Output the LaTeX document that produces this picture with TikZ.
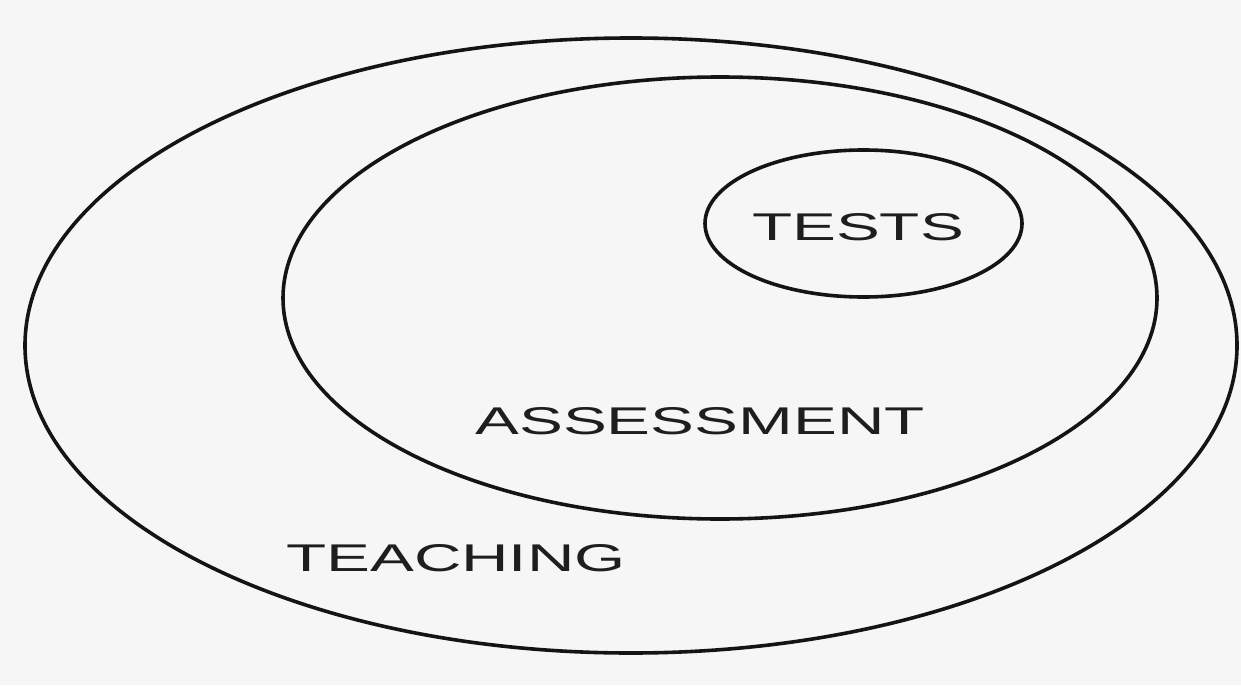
\documentclass[tikz,border=0pt]{standalone}
\usepackage{fontspec}
\setmainfont{Liberation Sans}
\newcommand{\widelabel}[1]{\scalebox{1.7}[1]{#1}}
\tikzset{every picture/.style={line width=2.7pt}}
\tikzset{ring/.style={draw={rgb,255:red,20;green,20;blue,20}}}
\tikzset{label text/.style={anchor=center,inner sep=0pt,text={rgb,255:red,30;green,30;blue,30},font=\fontsize{29}{35}\selectfont}}

\begin{document}
\begin{tikzpicture}[x=0.75pt,y=0.75pt,yscale=-1,xscale=1]
%Background
\fill [fill={rgb, 255:red, 246; green, 246; blue, 246 }] (0,0) rectangle (1241,685) ;
\useasboundingbox (0,0) rectangle (1241,685) ;

%Shape: Ellipse - teaching
\draw [ring] (631,345.5) ellipse [x radius=606, y radius=307.5] ;
%Shape: Ellipse - assessment
\draw [ring] (720,298) ellipse [x radius=437, y radius=221] ;
%Shape: Ellipse - tests
\draw [ring] (863.5,223.5) ellipse [x radius=158.5, y radius=73.5] ;

% Text Node
\node [label text] (tests) at (858,227) {\widelabel{TESTS}};
% Text Node
\node [label text] (assessment) at (700,421.5) {\widelabel{ASSESSMENT}};
% Text Node
\node [label text] (teaching) at (456,558) {\widelabel{TEACHING}};

\end{tikzpicture}
\end{document}
